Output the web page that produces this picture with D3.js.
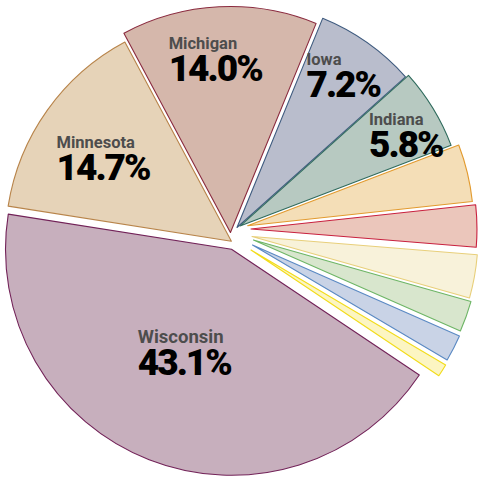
<!DOCTYPE html>
<html>
<head>
<meta charset="utf-8">
<script src="https://cdn.jsdelivr.net/npm/d3@7"></script>
<style>
  body { margin: 0; background: #fff; }
  .label { font-family: Roboto, 'Liberation Sans', sans-serif; }
  .name { font-weight: 700; fill: #4d4d4d; }
  .pct { font-weight: 900; fill: #000; letter-spacing: -2px; }
</style>
</head>
<body>
<script>
// shares of the total, clockwise from Wisconsin
const states = ['Wisconsin', 'Minnesota', 'Michigan', 'Iowa', 'Indiana', '', '', '', '', '', ''];
const shares = [43.1, 14.7, 14.0, 7.2, 5.8, 4.1, 3.0, 3.1, 2.2, 1.9, 0.9];

const fills   = ['#c7afbd', '#e6d3b8', '#d5b7ab', '#b9bdcc', '#b7c9c1', '#f4deb7', '#ebc6bb', '#f8f2da', '#d8e6cd', '#c9d3e6', '#fcf5c2'];
const strokes = ['#722258', '#b8844a', '#8a2a3e', '#3f5b7f', '#2e6a5c', '#e29a2e', '#c8203e', '#e8cf7a', '#6db565', '#5a89c3', '#f2dc1a'];

// explode: [distance px, direction deg (screen, clockwise from east)]
const pull = [[14.0, 132.7], [9.9, 166.5], [12.4, 211.5], [12.2, 250.8], [13.0, 265.6],
              [14.8, 296.6], [14.1, 315], [11.3, 347.2], [12.5, 4.6], [13.0, 27.6], [14.9, 47.7]];
// label block: [radius px, angle tweak deg]
const labelPlace = [[114, 3.1], [152.9, -2.5], [174.2, -2.1], [185.5, -0.3], [189.3, 2.5]];

const width = 478, height = 477;
const cx = 241, cy = 239, radius = 226;
const rad = Math.PI / 180;

const svg = d3.select('body').append('svg').attr('width', width).attr('height', height);

const pie = d3.pie().sort(null).value(d => d)
  .startAngle(123.8 * rad).endAngle(483.8 * rad);
const arcs = pie(shares);
const arc = d3.arc().innerRadius(0).outerRadius(radius);

function center(i) {
  const [d, a] = pull[i];
  return [cx + d * Math.cos(a * rad), cy + d * Math.sin(a * rad)];
}

svg.selectAll('path.slice')
  .data(arcs)
  .enter()
    .append('path')
    .attr('class', 'slice')
    .attr('d', arc)
    .attr('transform', (d, i) => `translate(${center(i)})`)
    .attr('fill', (d, i) => fills[i])
    .attr('stroke', (d, i) => strokes[i])
    .attr('stroke-width', 1.1)
    .attr('stroke-linejoin', 'round');

const fmt = d3.format('.1f');
const labels = svg.append('g');

arcs.forEach((d, i) => {
  if (!states[i]) return;
  const [r, tweak] = labelPlace[i];
  const a = (d.startAngle + d.endAngle) / 2 - Math.PI / 2 + tweak * rad;
  const [sx, sy] = center(i);
  const bx = sx + r * Math.cos(a), by = sy + r * Math.sin(a);

  // one text per label, two lines
  const t = labels.append('text').attr('class', 'label');
  const name = t.append('tspan').attr('class', 'name')
    .style('font-size', i === 0 ? '18.5px' : '16.5px')
    .attr('y', by - 10)
    .text(states[i]);
  const pct = t.append('tspan').attr('class', 'pct')
    .style('font-size', '37px')
    .attr('y', by + 22)
    .text(fmt(shares[i]) + '%');
  const w = Math.max(pct.node().getComputedTextLength(), name.node().getComputedTextLength());
  name.attr('x', bx - w / 2);
  pct.attr('x', bx - w / 2);
});
</script>
</body>
</html>
